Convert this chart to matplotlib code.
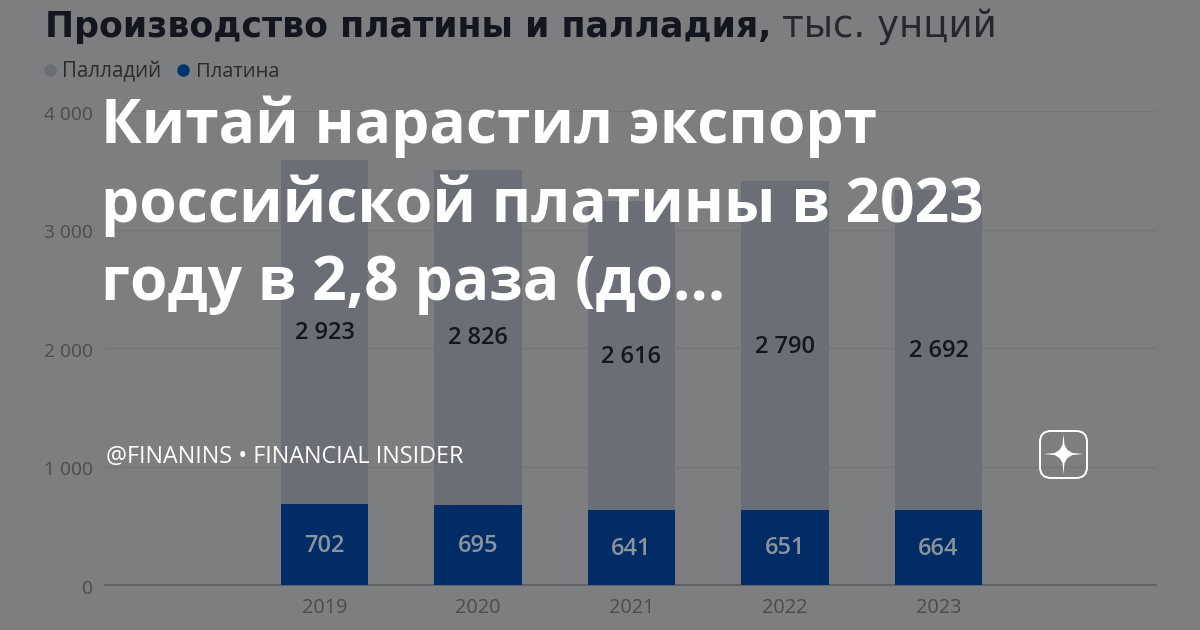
import matplotlib
matplotlib.use("Agg")
import matplotlib.pyplot as plt
from matplotlib.patches import FancyBboxPatch, Polygon
from matplotlib.transforms import ScaledTranslation

years = ["2019", "2020", "2021", "2022", "2023"]
platinum_labels = ["702", "695", "641", "651", "664"]
palladium_labels = ["2 923", "2 826", "2 616", "2 790", "2 692"]
# bar heights as drawn in the picture
platinum = [683, 680, 635, 637, 635]
totals = [3586, 3505, 3243, 3409, 3333]
palladium = [t - p for t, p in zip(totals, platinum)]
yticks = [0, 1000, 2000, 3000, 4000]
ytick_labels = ["0", "1 000", "2 000", "3 000", "4 000"]
headline = ["Китай нарастил экспорт", "российской платины в 2023", "году в 2,8 раза (до..."]

BG = "#7d7e80"
W, H = 1200, 630
plt.rcParams["font.family"] = ["Open Sans", "DejaVu Sans"]
fig = plt.figure(figsize=(W / 100, H / 100), dpi=100, facecolor=BG)

def fx(x): return x / W
def fy(y): return 1 - y / H

ax = fig.add_axes([fx(105), fy(585.3), (1156 - 105) / W, (585.3 - 111) / H], facecolor=BG)
xs = list(range(len(years)))
ax.bar(xs, platinum, width=0.567, color="#012c66", zorder=3)
ax.bar(xs, palladium, bottom=platinum, width=0.567, color="#6b6e76", zorder=3)
ax.set_xlim(-1.43, 5.417)
ax.set_ylim(0, 4000)
ax.set_yticks(yticks, ytick_labels)
ax.set_xticks(xs, years)
ax.grid(axis="y", color="#747577", lw=1, zorder=0)
ax.tick_params(length=0, labelsize=14.3, labelcolor="#4b4c4f")
ax.tick_params(axis="x", pad=9.5)
ax.tick_params(axis="y", pad=8.5, labelsize=13.8)
offset = ScaledTranslation(0, -1.5 / 100, fig.dpi_scale_trans)
for lbl in ax.get_yticklabels():
    lbl.set_transform(lbl.get_transform() + offset)
for s in ["top", "left", "right"]:
    ax.spines[s].set_visible(False)
ax.spines["bottom"].set_color("#5c5d60")
ax.spines["bottom"].set_linewidth(1.2)

for x, pl, pa, pll, pal in zip(xs, platinum, palladium, platinum_labels, palladium_labels):
    ax.text(x, pl / 2 - 8, pll, ha="center", va="center", fontsize=17, color="#8a949c",
            fontweight="semibold", zorder=4)
    ax.text(x, pl + pa / 2 - 10, pal, ha="center", va="center",
            fontsize=17, color="#14161d", fontweight="semibold", zorder=4)

title_font = ["DejaVu Sans"]
fig.text(fx(45), fy(37), "Производство платины и палладия,", fontsize=25, fontweight="bold",
         color="#14161f", va="baseline", ha="left", family=title_font)
fig.text(fx(782), fy(37), "тыс. унций", fontsize=26.7, color="#26282e", va="baseline", ha="left",
         family=title_font)

fig.add_artist(plt.Line2D([fx(50)], [fy(70)], marker="o", ms=8, color="#6b6e72", lw=0))
fig.text(fx(62), fy(77), "Палладий", fontsize=14.8, color="#2b2c30", va="baseline")
fig.add_artist(plt.Line2D([fx(183)], [fy(70)], marker="o", ms=8, color="#01336e", lw=0))
fig.text(fx(196), fy(77), "Платина", fontsize=14.5, color="#2b2c30", va="baseline")

for y, line in zip([143, 222, 300], headline):
    fig.text(fx(101), fy(y), line, fontsize=43.6, fontweight="bold",
             color="white", va="baseline", ha="left")
fig.text(fx(106), fy(463), "@FINANINS • FINANCIAL INSIDER", fontsize=16.85, color="white",
         va="baseline", ha="left", fontweight="medium")

# logo
ov = fig.add_axes([0, 0, 1, 1], facecolor="none")
ov.set_xlim(0, W); ov.set_ylim(H, 0); ov.axis("off")
ov.add_patch(FancyBboxPatch((1050, 441), 27, 27, boxstyle="round,pad=10,rounding_size=11",
                            fc="none", ec="white", lw=1.4))
cx, cy = 1063.5, 454
star = [(cx, cy - 20), (cx + 1, cy - 9), (cx + 4, cy - 4), (cx + 9, cy - 1), (cx + 20, cy),
        (cx + 9, cy + 1), (cx + 4, cy + 4), (cx + 1, cy + 9), (cx, cy + 20), (cx - 1, cy + 9),
        (cx - 4, cy + 4), (cx - 9, cy + 1), (cx - 20, cy), (cx - 9, cy - 1), (cx - 4, cy - 4),
        (cx - 1, cy - 9)]
ov.add_patch(Polygon(star, closed=True, fc="white", ec="none"))

fig.savefig("out.png", dpi=100, facecolor=BG)
